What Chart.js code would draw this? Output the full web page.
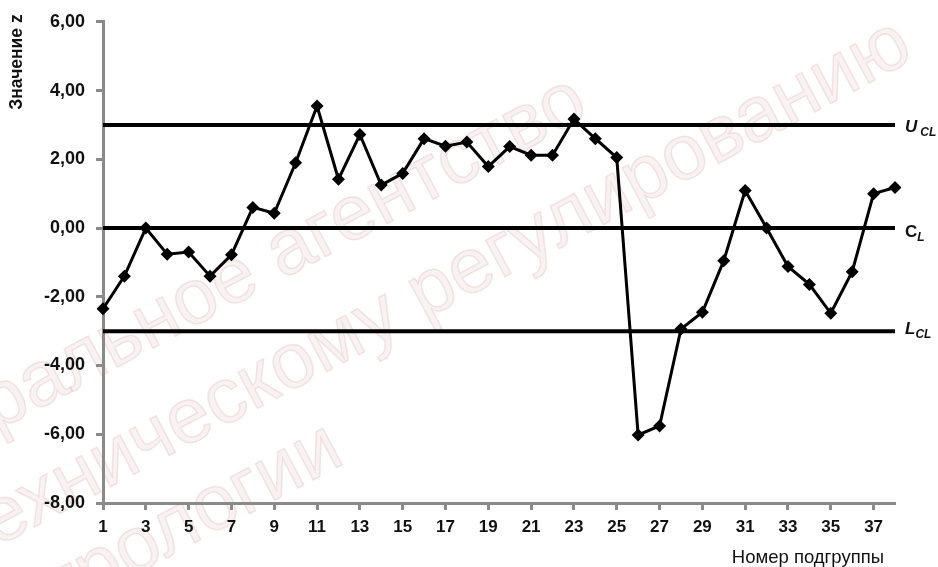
<!DOCTYPE html>
<html>
<head>
<meta charset="utf-8">
<script src="https://cdn.jsdelivr.net/npm/chart.js@4.4.0/dist/chart.umd.min.js"></script>
<style>
  html, body { margin: 0; padding: 0; background: #fff; }
  #wrap { width: 938px; height: 567px; }
</style>
</head>
<body>
<div id="wrap"><canvas id="zChart" width="938" height="567"></canvas></div>
<script>
// номера подгрупп
const subgroups = ['1', '2', '3', '4', '5', '6', '7', '8', '9', '10',
  '11', '12', '13', '14', '15', '16', '17', '18', '19', '20',
  '21', '22', '23', '24', '25', '26', '27', '28', '29', '30',
  '31', '32', '33', '34', '35', '36', '37', '38'];

// значения z по подгруппам
const zValues = [-2.35, -1.40, 0.00, -0.76, -0.70, -1.40, -0.78, 0.60, 0.43, 1.90,
  3.55, 1.42, 2.72, 1.25, 1.59, 2.60, 2.38, 2.50, 1.79, 2.37,
  2.12, 2.12, 3.17, 2.60, 2.05, -6.02, -5.76, -2.94, -2.45, -0.95,
  1.09, 0.00, -1.12, -1.64, -2.48, -1.27, 1.00, 1.18];

// контрольные границы
const ucl = 3;
const cl = 0;
const lcl = -3;

// шкала z
const yMin = -8;
const yMax = 6;
const yStep = 2;

const wmLines = ['Федеральное агентство', 'по техническому регулированию', 'и метрологии'];

const axisGrey = '#8a8a8a';
const font = 'Liberation Sans, Arial, sans-serif';

function flat(v) {
  return subgroups.map(() => v);
}

function fmt(v) {
  return Number(v).toFixed(2).replace('.', ',');
}

const decorPlugin = {
  id: 'decor',
  beforeDraw(chart) {
    // бледный водяной знак под графиком
    const ctx = chart.ctx;
    ctx.save();
    ctx.fillStyle = 'rgba(215, 165, 165, 0.14)';
    ctx.strokeStyle = 'rgba(200, 140, 140, 0.20)';
    ctx.lineWidth = 1.5;
    ctx.font = '78px ' + font;
    ctx.textBaseline = 'alphabetic';
    const starts = [[-172, 521], [-129, 614], [-82, 690]];
    wmLines.forEach((t, i) => {
      ctx.save();
      ctx.translate(starts[i][0], starts[i][1]);
      ctx.rotate(-28 * Math.PI / 180);
      ctx.fillText(t, 0, 0);
      ctx.strokeText(t, 0, 0);
      ctx.restore();
    });
    ctx.restore();
  },
  afterDraw(chart) {
    const ctx = chart.ctx;
    const y = chart.scales.y;
    const x0 = chart.chartArea.right + 10;
    ctx.save();
    ctx.fillStyle = '#111';
    ctx.textBaseline = 'middle';
    ctx.textAlign = 'left';

    // U_CL
    let py = y.getPixelForValue(ucl);
    ctx.font = 'italic bold 17px ' + font;
    ctx.fillText('U', x0, py + 2);
    let w = ctx.measureText('U').width;
    ctx.font = 'italic bold 12px ' + font;
    ctx.fillText('CL', x0 + w + 3, py + 8);

    // C_L
    py = y.getPixelForValue(cl);
    ctx.font = 'bold 17px ' + font;
    ctx.fillText('C', x0, py + 4);
    w = ctx.measureText('C').width;
    ctx.font = 'italic bold 12px ' + font;
    ctx.fillText('L', x0 + w, py + 10);

    // L_CL
    py = y.getPixelForValue(lcl);
    ctx.font = 'italic bold 17px ' + font;
    ctx.fillText('L', x0, py - 2);
    w = ctx.measureText('L').width;
    ctx.font = 'italic bold 12px ' + font;
    ctx.fillText('CL', x0 + w, py + 4);

    // подписи осей
    ctx.font = 'bold 17.5px ' + font;
    ctx.textAlign = 'center';
    ctx.save();
    ctx.translate(17, 62);
    ctx.rotate(-Math.PI / 2);
    ctx.fillText('Значение z', 0, 0);
    ctx.restore();

    ctx.font = '18.5px ' + font;
    ctx.textAlign = 'right';
    ctx.fillText('Номер подгруппы', 884, 558);
    ctx.restore();
  }
};

const ctx = document.getElementById('zChart').getContext('2d');
new Chart(ctx, {
  type: 'line',
  data: {
    labels: subgroups,
    datasets: [
      {
        label: 'z',
        data: zValues,
        borderColor: '#000',
        backgroundColor: '#000',
        borderWidth: 3,
        pointStyle: 'rectRot',
        pointRadius: 6.5,
        pointBorderWidth: 0,
        tension: 0
      },
      {
        label: 'UCL',
        data: flat(ucl),
        borderColor: '#000',
        borderWidth: 4,
        pointRadius: 0
      },
      {
        label: 'CL',
        data: flat(cl),
        borderColor: '#000',
        borderWidth: 4,
        pointRadius: 0
      },
      {
        label: 'LCL',
        data: flat(lcl),
        borderColor: '#000',
        borderWidth: 4,
        pointRadius: 0
      }
    ]
  },
  options: {
    responsive: false,
    animation: false,
    layout: { padding: { top: 17, right: 43, left: 0, bottom: 0 } },
    plugins: {
      legend: { display: false },
      tooltip: { enabled: false }
    },
    scales: {
      x: {
        type: 'category',
        offset: false,
        grid: {
          drawOnChartArea: false,
          tickLength: 7,
          tickWidth: 3,
          tickColor: c => (c.index % 2 === 0 ? axisGrey : 'rgba(0,0,0,0)')
        },
        border: { color: axisGrey, width: 3 },
        ticks: {
          autoSkip: false,
          maxRotation: 0,
          padding: 7,
          color: '#111',
          font: { family: font, size: 17, weight: 'bold' },
          callback: (v, i) => (i % 2 === 0 ? subgroups[i] : '')
        },
        afterFit: s => { s.height = 64; }
      },
      y: {
        min: yMin,
        max: yMax,
        grid: {
          drawOnChartArea: false,
          tickLength: 7,
          tickWidth: 3,
          tickColor: axisGrey
        },
        border: { color: axisGrey, width: 3 },
        ticks: {
          stepSize: yStep,
          padding: 11,
          color: '#111',
          font: { family: font, size: 18, weight: 'bold' },
          callback: v => fmt(v)
        },
        afterFit: s => { s.width = 103; }
      }
    }
  },
  plugins: [decorPlugin]
});
</script>
</body>
</html>
